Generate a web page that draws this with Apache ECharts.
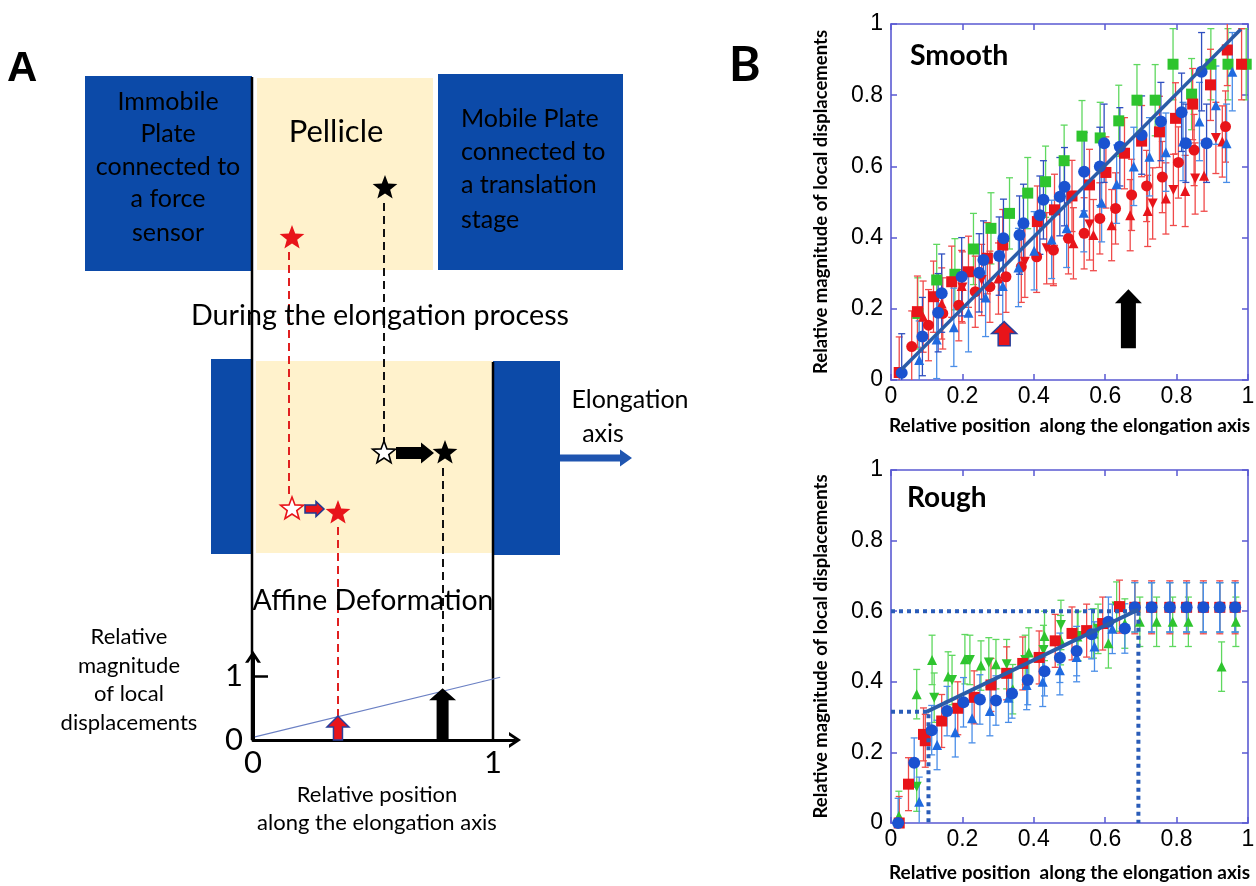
<!DOCTYPE html>
<html><head><meta charset="utf-8">
<script src="https://cdn.jsdelivr.net/npm/echarts@6/dist/echarts.min.js"></script>
<style>html,body{margin:0;padding:0;background:#fff}#c{width:1256px;height:886px}</style>
</head><body><div id="c"></div>
<script>
// ================= DATA =================
const tickLabels = ['0', '0.2', '0.4', '0.6', '0.8', '1'];
// ---- Panel B, Smooth ----
const smGreenSqX = [0.075,0.128,0.179,0.231,0.28,0.332,0.383,0.433,0.485,0.535,0.586,0.638,0.689,0.74,0.79,0.842,0.896,0.944,0.995];
const smGreenSqY = [0.187,0.281,0.297,0.368,0.426,0.468,0.525,0.557,0.616,0.685,0.68,0.728,0.786,0.786,0.887,0.803,0.887,0.887,0.887];
const smBlueCircX = [0.03,0.088,0.132,0.142,0.198,0.247,0.259,0.303,0.315,0.36,0.371,0.417,0.427,0.473,0.486,0.541,0.585,0.597,0.641,0.702,0.756,0.814,0.826,0.87,0.884];
const smBlueCircY = [0.02,0.122,0.189,0.244,0.29,0.301,0.337,0.348,0.398,0.407,0.44,0.463,0.506,0.515,0.543,0.585,0.6,0.665,0.655,0.688,0.726,0.752,0.665,0.866,0.665];
const smBlueTriX = [0.079,0.128,0.176,0.217,0.265,0.313,0.357,0.401,0.45,0.492,0.54,0.59,0.632,0.68,0.724,0.77,0.818,0.864,0.91,0.94,0.956];
const smBlueTriY = [0.056,0.114,0.148,0.189,0.232,0.264,0.316,0.363,0.395,0.426,0.47,0.498,0.55,0.6,0.627,0.64,0.67,0.726,0.772,0.665,0.866];
const smRedSqX = [0.023,0.074,0.119,0.17,0.217,0.27,0.313,0.41,0.458,0.507,0.556,0.602,0.654,0.702,0.752,0.797,0.845,0.895,0.942,0.982];
const smRedSqY = [0.021,0.192,0.234,0.276,0.304,0.342,0.379,0.445,0.478,0.517,0.548,0.583,0.637,0.671,0.697,0.735,0.775,0.829,0.927,0.887];
const smRedCircX = [0.058,0.105,0.145,0.19,0.236,0.277,0.322,0.365,0.408,0.455,0.497,0.541,0.585,0.629,0.674,0.716,0.76,0.805,0.849,0.937];
const smRedCircY = [0.094,0.154,0.187,0.21,0.248,0.262,0.29,0.318,0.346,0.365,0.398,0.412,0.454,0.482,0.52,0.545,0.57,0.611,0.646,0.712];
const smRedTriX = [0.09,0.142,0.198,0.301,0.455,0.511,0.567,0.618,0.67,0.719,0.77,0.824,0.877,0.928];
const smRedTriY = [0.178,0.215,0.264,0.285,0.37,0.384,0.407,0.435,0.463,0.475,0.51,0.531,0.574,0.67];
const smRedDownX = [0.2,0.254,0.375,0.436,0.556,0.733,0.791,0.852,0.91];
const smRedDownY = [0.26,0.281,0.332,0.37,0.437,0.496,0.534,0.566,0.68];
const smErrGreen = 0.1, smErrBlue = 0.11, smErrRed = 0.1;
const smFitX = [0.03, 0.98];
const smFitY = [0.03, 0.985];
const smArrowX = [0.317, 0.665];
const smArrowBase = [0.096, 0.089];
const smArrowTip = [0.164, 0.255];

// ---- Panel B, Rough ----
const roRedSqX = [0.023,0.049,0.091,0.096,0.142,0.187,0.233,0.28,0.324,0.369,0.415,0.46,0.507,0.548,0.593,0.64,0.683,0.73,0.781,0.828,0.875,0.921,0.964];
const roRedSqY = [0.0,0.11,0.251,0.233,0.289,0.325,0.356,0.391,0.424,0.452,0.469,0.516,0.537,0.545,0.565,0.613,0.611,0.611,0.611,0.611,0.611,0.611,0.611];
const roBlueCircX = [0.02,0.065,0.114,0.157,0.203,0.249,0.294,0.339,0.383,0.43,0.473,0.52,0.562,0.609,0.655,0.683,0.73,0.781,0.828,0.875,0.921,0.964];
const roBlueCircY = [0.0,0.171,0.263,0.317,0.342,0.35,0.347,0.367,0.405,0.43,0.468,0.487,0.535,0.57,0.551,0.611,0.611,0.611,0.611,0.611,0.611,0.611];
const roBlueTriX = [0.079,0.129,0.18,0.227,0.277,0.329,0.38,0.425,0.473,0.52,0.57,0.62,0.73,0.781,0.828,0.875,0.921,0.964];
const roBlueTriY = [0.06,0.221,0.257,0.297,0.317,0.355,0.391,0.4,0.433,0.47,0.5,0.55,0.611,0.611,0.611,0.611,0.611,0.611];
const roGreenTriX = [0.022,0.072,0.115,0.16,0.207,0.252,0.294,0.341,0.386,0.43,0.475,0.522,0.567,0.609,0.655,0.697,0.744,0.789,0.833,0.926,0.966];
const roGreenTriY = [0.02,0.365,0.462,0.415,0.464,0.446,0.45,0.379,0.483,0.53,0.518,0.528,0.537,0.509,0.565,0.57,0.57,0.57,0.57,0.443,0.57];
const roGreenDownX = [0.072,0.121,0.171,0.221,0.274,0.324,0.376,0.427,0.476,0.524,0.58,0.632,0.683,0.73,0.781,0.828,0.875,0.921,0.964];
const roGreenDownY = [0.103,0.355,0.405,0.462,0.455,0.45,0.462,0.49,0.561,0.53,0.55,0.613,0.611,0.611,0.611,0.611,0.611,0.611,0.611];
const roErrRed = 0.075, roErrBlue = 0.07, roErrGreen = 0.07;
const roFitX = [0.1, 0.693];
const roFitY = [0.315, 0.605];
const roGuideLowX = 0.105, roGuideLowY = 0.315;
const roGuideHighX = 0.693, roGuideHighY = 0.6;

// ---- Panel A, mini plot ----
const miniLineX = [0.008, 1.03];
const miniLineY = [0.05, 0.98];
const miniArrowX = [0.354, 0.79];
const miniArrowTip = [0.375, 0.81];

// ================= STYLE / HELPERS =================
const frame = '#5a5ad2';
const cGreen = '#2ec42e', cGreenBar = '#5fd85f';
const cRed = '#e8141a', cRedBar = '#f04a4a';
const cBlue = '#1a52d0', cBlueBar = '#2f4fc0';
const cBlueT = '#1f6ae0', cBlueTBar = '#4a8ee8';
const fitColor = '#2b5ca8';
const tickFont = 'Liberation Sans';
const nameFont = 'Lato';
const pairs = (xs, ys) => xs.map((x, i) => [x, ys[i]]);

function errSeries(ax, xs, ys, err, color) {
  return {
    type: 'custom', xAxisIndex: ax, yAxisIndex: ax, clip: true, silent: true, z: 2,
    data: xs.map((x, i) => [x, ys[i], err]),
    renderItem(p, api) {
      const x = api.value(0), y = api.value(1), e = api.value(2);
      const lo = api.coord([x, y - e]), hi = api.coord([x, y + e]);
      const cw = 3.5;
      const st = { stroke: color, lineWidth: 1.3 };
      return { type: 'group', children: [
        { type: 'line', shape: { x1: lo[0], y1: lo[1], x2: hi[0], y2: hi[1] }, style: st },
        { type: 'line', shape: { x1: lo[0] - cw, y1: lo[1], x2: lo[0] + cw, y2: lo[1] }, style: st },
        { type: 'line', shape: { x1: hi[0] - cw, y1: hi[1], x2: hi[0] + cw, y2: hi[1] }, style: st }
      ]};
    }
  };
}
function markSeries(ax, xs, ys, symbol, size, color) {
  return { type: 'scatter', xAxisIndex: ax, yAxisIndex: ax, silent: true, z: 3,
    symbol, symbolSize: size, itemStyle: { color, opacity: 1 },
    data: pairs(xs, ys) };
}
function upArrowSeries(ax, xs, base, tip, fill, stroke, bodyW, headW, headH) {
  return {
    type: 'custom', xAxisIndex: ax, yAxisIndex: ax, silent: true, z: 6,
    data: xs.map((x, i) => [x, base[i], tip[i]]),
    renderItem(p, api) {
      const b = api.coord([api.value(0), api.value(1)]);
      const t = api.coord([api.value(0), api.value(2)]);
      const cx = b[0], hb = t[1] + headH;
      return { type: 'polygon', shape: { points: [
        [cx - bodyW / 2, b[1]], [cx - bodyW / 2, hb], [cx - headW / 2, hb], [cx, t[1]],
        [cx + headW / 2, hb], [cx + bodyW / 2, hb], [cx + bodyW / 2, b[1]]] },
        style: { fill, stroke: stroke || null, lineWidth: stroke ? 1.5 : 0 } };
    }
  };
}
const downTri = 'path://M0,0 L10,0 L5,9 Z';

function bX(grid, pos, name, gap) {
  const main = pos === 'bottom';
  return { gridIndex: grid, type: 'value', min: 0, max: 1, interval: 0.2, position: pos,
    axisLine: { show: true, onZero: false, lineStyle: { color: frame, width: 1.6 } },
    axisTick: { show: true, inside: true, length: 6, lineStyle: { color: frame, width: 1.5 } },
    axisLabel: { show: main, color: '#000', fontSize: 23, fontFamily: tickFont, margin: 5 },
    splitLine: { show: false },
    name: main ? name : '', nameLocation: 'middle', nameGap: gap,
    nameTextStyle: { color: '#000', fontSize: 19, fontWeight: 'bold', fontFamily: nameFont } };
}
function bY(grid, pos, name, gap) {
  const main = pos === 'left';
  return { gridIndex: grid, type: 'value', min: 0, max: 1, interval: 0.2, position: pos,
    axisLine: { show: true, onZero: false, lineStyle: { color: frame, width: 1.6 } },
    axisTick: { show: true, inside: true, length: 6, lineStyle: { color: frame, width: 1.5 } },
    axisLabel: { show: main, color: '#000', fontSize: 23, fontFamily: tickFont, margin: 8 },
    splitLine: { show: false },
    name: main ? name : '', nameLocation: 'middle', nameGap: gap, nameRotate: 90,
    nameTextStyle: { color: '#000', fontSize: 18.5, fontWeight: 'bold', fontFamily: nameFont } };
}
const xName = 'Relative position  along the elongation axis';
const yName = 'Relative magnitude of local displacements';
const chevron = 'path://M0,12 L8,0 L16,12 L12.6,12 L8,5 L3.4,12 Z';

// ---- Panel A schematic (illustration) ----
const blue = '#0c4aa8', cream = '#fff2cc';
const g = [];
function rect(x, y, w, h, fill) { g.push({ type: 'rect', z: 1, shape: { x, y, width: w, height: h }, style: { fill } }); }
function txt(t, x, y, size, align, weight, fam) {
  g.push({ type: 'text', z: 5, style: { text: t, x, y, fill: '#000', fontSize: size,
    fontFamily: fam || 'Lato', fontWeight: weight || 'normal', align: align || 'center', verticalAlign: 'middle' } });
}
function vline(x, y1, y2, color, w, dash) {
  g.push({ type: 'line', z: 3, shape: { x1: x, y1, x2: x, y2 },
    style: { stroke: color, lineWidth: w, lineDash: dash || null } });
}
function star(cx, cy, R, fill, stroke) {
  const pts = [];
  for (let i = 0; i < 10; i++) {
    const r = i % 2 === 0 ? R : R * 0.42;
    const a = -Math.PI / 2 + i * Math.PI / 5;
    pts.push([cx + r * Math.cos(a), cy + r * Math.sin(a)]);
  }
  g.push({ type: 'polygon', z: 6, shape: { points: pts },
    style: { fill, stroke: stroke || null, lineWidth: stroke ? 1.6 : 0 } });
}
function hArrow(x0, x1, y, bodyH, headH, headL, fill, stroke) {
  const hx = x1 - headL;
  g.push({ type: 'polygon', z: 6, shape: { points: [
    [x0, y - bodyH / 2], [hx, y - bodyH / 2], [hx, y - headH / 2], [x1, y],
    [hx, y + headH / 2], [hx, y + bodyH / 2], [x0, y + bodyH / 2]] },
    style: { fill, stroke: stroke || null, lineWidth: stroke ? 1.5 : 0 } });
}
// top state
rect(85, 76, 167, 195, blue);
rect(257, 78, 176, 192, cream);
rect(438, 74, 185, 196, blue);
txt('Immobile', 168, 102, 25); txt('Plate', 168, 134, 25); txt('connected to', 168, 167, 25);
txt('a force', 168, 199, 25); txt('sensor', 168, 233, 25);
txt('Pellicle', 336, 132, 31);
txt('Mobile Plate', 461, 119, 25, 'left'); txt('connected to', 461, 152, 25, 'left');
txt('a translation', 461, 185, 25, 'left'); txt('stage', 461, 220, 25, 'left');
// black long boundary lines
vline(252, 77, 740, '#000', 2.5);
vline(493, 362, 740, '#000', 2.5);
// dashed tracking lines
vline(289, 252, 495, '#e02020', 2, [8, 5]);
vline(384, 203, 442, '#111', 2, [8, 5]);
vline(338, 527, 740, '#e02020', 2, [8, 5]);
vline(443, 468, 688, '#111', 2, [8, 5]);
star(385, 188, 13, '#000');
star(292, 238, 13, '#e8141a');
txt('During the elongation process', 380, 316, 28.7);
// stretched state
rect(211, 359, 42, 195, blue);
rect(256, 361, 237, 192, cream);
rect(493, 361, 67, 194, blue);
hArrow(560, 632, 458, 7, 17, 12, '#1f55b0');
txt('Elongation', 630, 400, 25); txt('axis', 603, 434, 25);
star(384, 453, 12, '#fff', '#000');
hArrow(396, 434, 453, 12, 21, 13, '#000');
star(445, 453, 13, '#000');
star(292, 509, 12, '#fff', '#e8141a');
hArrow(305, 324, 509, 8, 15, 8, '#e8141a', '#1f3a93');
star(338, 513, 13, '#e8141a');
txt('Affine Deformation', 373, 601, 28.4);
txt('Relative', 129, 637, 22); txt('magnitude', 129, 666, 22);
txt('of local', 129, 694, 22); txt('displacements', 129, 723, 22);
txt('Relative position', 377, 795, 22); txt('along the elongation axis', 377, 823, 22);
// panel letters & titles
txt('A', 7, 69, 42, 'left', 'bold', 'Liberation Sans');
txt('B', 729, 66, 48, 'left', 'bold', 'Lato');
txt('Smooth', 910, 56, 28.5, 'left', 'bold');
txt('Rough', 907, 498, 28, 'left', 'bold');

// ================= OPTION =================
const option = {
  animation: false,
  backgroundColor: '#fff',
  graphic: { elements: g },
  grid: [
    { left: 891, top: 24, width: 357, height: 356, containLabel: false, outerBoundsMode: 'none' },
    { left: 891, top: 470, width: 357, height: 353, containLabel: false, outerBoundsMode: 'none' },
    { left: 253, top: 656.8, width: 262, height: 83.2, containLabel: false, outerBoundsMode: 'none' }
  ],
  xAxis: [
    bX(0, 'bottom', xName, 36), bX(0, 'top'),
    bX(1, 'bottom', xName, 40), bX(1, 'top'),
    { gridIndex: 2, type: 'value', min: 0, max: 1.0917,
      axisLine: { show: true, onZero: false, symbol: ['none', chevron], symbolSize: [18, 12], lineStyle: { color: '#000', width: 3 } },
      axisTick: { show: false },
      axisLabel: { show: true, customValues: [0, 1], color: '#000', fontSize: 31, fontFamily: 'Lato', margin: 7 },
      splitLine: { show: false } }
  ],
  yAxis: [
    bY(0, 'left', yName, 60), bY(0, 'right'),
    bY(1, 'left', yName, 60), bY(1, 'right'),
    { gridIndex: 2, type: 'value', min: 0, max: 1.3,
      axisLine: { show: true, onZero: false, symbol: ['none', chevron], symbolSize: [18, 12], lineStyle: { color: '#000', width: 3 } },
      axisTick: { show: true, customValues: [1], inside: true, length: 15, lineStyle: { color: '#000', width: 2.5 } },
      axisLabel: { show: true, customValues: [0, 1], color: '#000', fontSize: 31, fontFamily: 'Lato', margin: 10 },
      splitLine: { show: false } }
  ],
  series: [
    // Smooth
    errSeries(0, smGreenSqX, smGreenSqY, smErrGreen, cGreenBar),
    errSeries(0, smRedSqX, smRedSqY, smErrRed, cRedBar),
    errSeries(0, smRedCircX, smRedCircY, smErrRed, cRedBar),
    errSeries(0, smRedTriX, smRedTriY, smErrRed, cRedBar),
    errSeries(0, smRedDownX, smRedDownY, smErrRed, cRedBar),
    errSeries(0, smBlueTriX, smBlueTriY, smErrBlue, cBlueTBar),
    errSeries(0, smBlueCircX, smBlueCircY, smErrBlue, cBlueBar),
    markSeries(0, smGreenSqX, smGreenSqY, 'rect', 11, cGreen),
    markSeries(0, smRedSqX, smRedSqY, 'rect', 11, cRed),
    markSeries(0, smRedCircX, smRedCircY, 'circle', 11, cRed),
    markSeries(0, smRedTriX, smRedTriY, 'triangle', 10, cRed),
    markSeries(0, smRedDownX, smRedDownY, downTri, 10, cRed),
    markSeries(0, smBlueTriX, smBlueTriY, 'triangle', 10, cBlueT),
    markSeries(0, smBlueCircX, smBlueCircY, 'circle', 12, cBlue),
    { type: 'line', xAxisIndex: 0, yAxisIndex: 0, silent: true, z: 5, symbol: 'none',
      lineStyle: { color: fitColor, width: 3.5 }, data: pairs(smFitX, smFitY) },
    upArrowSeries(0, [smArrowX[0]], [smArrowBase[0]], [smArrowTip[0]], '#e8141a', '#2a3f9a', 12, 25, 12),
    upArrowSeries(0, [smArrowX[1]], [smArrowBase[1]], [smArrowTip[1]], '#000', null, 15, 27, 14),
    // Rough
    errSeries(2, roGreenTriX, roGreenTriY, roErrGreen, cGreenBar),
    errSeries(2, roGreenDownX, roGreenDownY, roErrGreen, cGreenBar),
    errSeries(2, roRedSqX, roRedSqY, roErrRed, cRedBar),
    errSeries(2, roBlueTriX, roBlueTriY, roErrBlue, cBlueTBar),
    errSeries(2, roBlueCircX, roBlueCircY, roErrBlue, cBlueTBar),
    markSeries(2, roGreenTriX, roGreenTriY, 'triangle', 10, cGreen),
    markSeries(2, roGreenDownX, roGreenDownY, downTri, 10, cGreen),
    markSeries(2, roRedSqX, roRedSqY, 'rect', 11, cRed),
    markSeries(2, roBlueTriX, roBlueTriY, 'triangle', 10, cBlueT),
    markSeries(2, roBlueCircX, roBlueCircY, 'circle', 12, cBlue),
    { type: 'line', xAxisIndex: 2, yAxisIndex: 2, silent: true, z: 4, symbol: 'none',
      lineStyle: { color: '#2a5cb8', width: 4, type: [4, 4] },
      data: [[0, roGuideHighY], [roGuideHighX, roGuideHighY], [roGuideHighX, 0]] },
    { type: 'line', xAxisIndex: 2, yAxisIndex: 2, silent: true, z: 4, symbol: 'none',
      lineStyle: { color: '#2a5cb8', width: 4, type: [4, 4] },
      data: [[0, roGuideLowY], [roGuideLowX, roGuideLowY], [roGuideLowX, 0]] },
    { type: 'line', xAxisIndex: 2, yAxisIndex: 2, silent: true, z: 5, symbol: 'none',
      lineStyle: { color: fitColor, width: 4 }, data: pairs(roFitX, roFitY) },
    // Panel A mini plot
    { type: 'line', xAxisIndex: 4, yAxisIndex: 4, silent: true, z: 4, symbol: 'none',
      lineStyle: { color: '#6b80c4', width: 1.2 }, data: pairs(miniLineX, miniLineY) },
    upArrowSeries(4, [miniArrowX[0]], [0], [miniArrowTip[0]], '#e8141a', '#2a3f9a', 9, 22, 11),
    upArrowSeries(4, [miniArrowX[1]], [0], [miniArrowTip[1]], '#000', null, 12, 27, 12)
  ]
};
const chart = echarts.init(document.getElementById('c'));
chart.setOption(option);
</script>
</body></html>
